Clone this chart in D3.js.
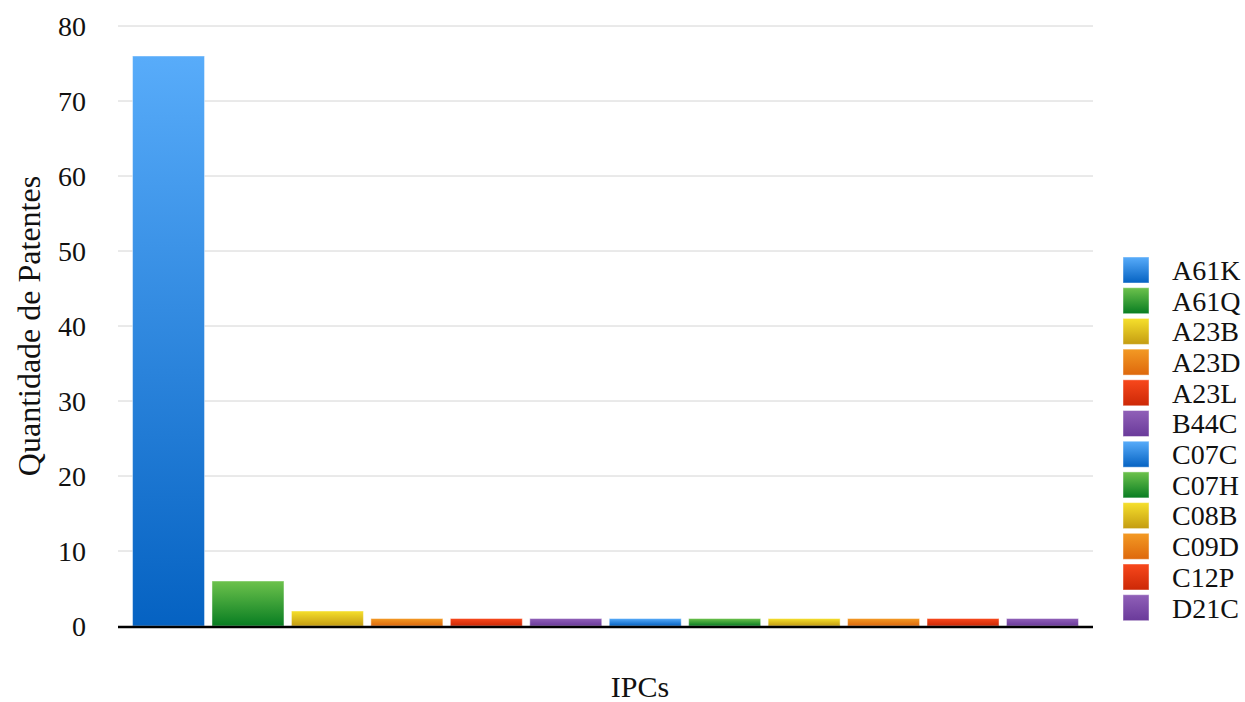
<!DOCTYPE html>
<html>
<head>
<meta charset="utf-8">
<script src="https://cdn.jsdelivr.net/npm/d3@7"></script>
<style>
  html, body { margin: 0; padding: 0; background: #fff; }
  svg { display: block; font-family: "Liberation Serif", "Times New Roman", serif; }
</style>
</head>
<body>
<svg id="chart" width="1245" height="702"></svg>
<script>
// IPC classes and number of patents in each
const categories = ["A61K", "A61Q", "A23B", "A23D", "A23L", "B44C", "C07C", "C07H", "C08B", "C09D", "C12P", "D21C"];
const patentCounts = [76, 6, 2, 1, 1, 1, 1, 1, 1, 1, 1, 1];
const yTicks = [0, 10, 20, 30, 40, 50, 60, 70, 80];

// colour cycle: [top, bottom] of each gradient
const palette = [
  ["#58acfa", "#0562c2"],
  ["#6dc24c", "#087d22"],
  ["#f6e02c", "#c49c12"],
  ["#f39a24", "#de680c"],
  ["#f8481c", "#cc2806"],
  ["#9060b8", "#6a3a9a"]
];

const svg = d3.select("#chart");
const margin = { left: 118, right: 1093, top: 26, bottom: 626 };

const x = d3.scaleBand()
  .domain(categories)
  .range([margin.left, margin.right])
  .paddingInner(0.094)
  .paddingOuter(0.183);

const y = d3.scaleLinear().domain([0, 80]).range([margin.bottom, margin.top]);

const defs = svg.append("defs");
palette.forEach((c, i) => {
  const g = defs.append("linearGradient")
    .attr("id", "grad" + i)
    .attr("x1", 0).attr("y1", 0).attr("x2", 0).attr("y2", 1);
  g.append("stop").attr("offset", "0%").attr("stop-color", c[0]);
  g.append("stop").attr("offset", "100%").attr("stop-color", c[1]);
});

// grid lines
svg.append("g")
  .selectAll("line")
  .data(yTicks.filter(d => d > 0))
  .join("line")
  .attr("x1", margin.left).attr("x2", margin.right)
  .attr("y1", d => y(d)).attr("y2", d => y(d))
  .attr("stroke", "#d4d4d4").attr("stroke-width", 1);

// y tick labels
svg.append("g")
  .selectAll("text")
  .data(yTicks)
  .join("text")
  .attr("x", 86)
  .attr("y", d => y(d))
  .attr("dy", "0.35em")
  .attr("text-anchor", "end")
  .attr("font-size", 28)
  .attr("fill", "#111")
  .text(d => d);

// bars
svg.append("g")
  .selectAll("rect")
  .data(categories)
  .join("rect")
  .attr("x", d => x(d))
  .attr("width", x.bandwidth())
  .attr("y", (d, i) => y(patentCounts[i]))
  .attr("height", (d, i) => y(0) - y(patentCounts[i]))
  .attr("fill", (d, i) => `url(#grad${i % palette.length})`)
  .attr("stroke", "rgba(255,255,255,0.45)")
  .attr("stroke-width", 1);

// baseline
svg.append("line")
  .attr("x1", margin.left).attr("x2", margin.right)
  .attr("y1", y(0) + 1).attr("y2", y(0) + 1)
  .attr("stroke", "#000").attr("stroke-width", 2.5);

// axis titles
svg.append("text")
  .attr("transform", `translate(29, ${(margin.top + margin.bottom) / 2}) rotate(-90)`)
  .attr("text-anchor", "middle")
  .attr("dy", "0.35em")
  .attr("font-size", 32)
  .attr("fill", "#111")
  .text("Quantidade de Patentes");

svg.append("text")
  .attr("x", 640)
  .attr("y", 686)
  .attr("text-anchor", "middle")
  .attr("dy", "0.35em")
  .attr("font-size", 30)
  .attr("fill", "#111")
  .text("IPCs");

// legend
const legend = svg.append("g")
  .selectAll("g")
  .data(categories)
  .join("g")
  .attr("transform", (d, i) => `translate(1123, ${257 + i * 30.7})`);

legend.append("rect")
  .attr("width", 26).attr("height", 26)
  .attr("fill", (d, i) => `url(#grad${i % palette.length})`)
  .attr("stroke", "rgba(255,255,255,0.45)");

legend.append("text")
  .attr("x", 49)
  .attr("y", 13)
  .attr("dy", "0.35em")
  .attr("font-size", 28)
  .attr("fill", "#111")
  .text(d => d);
</script>
</body>
</html>
